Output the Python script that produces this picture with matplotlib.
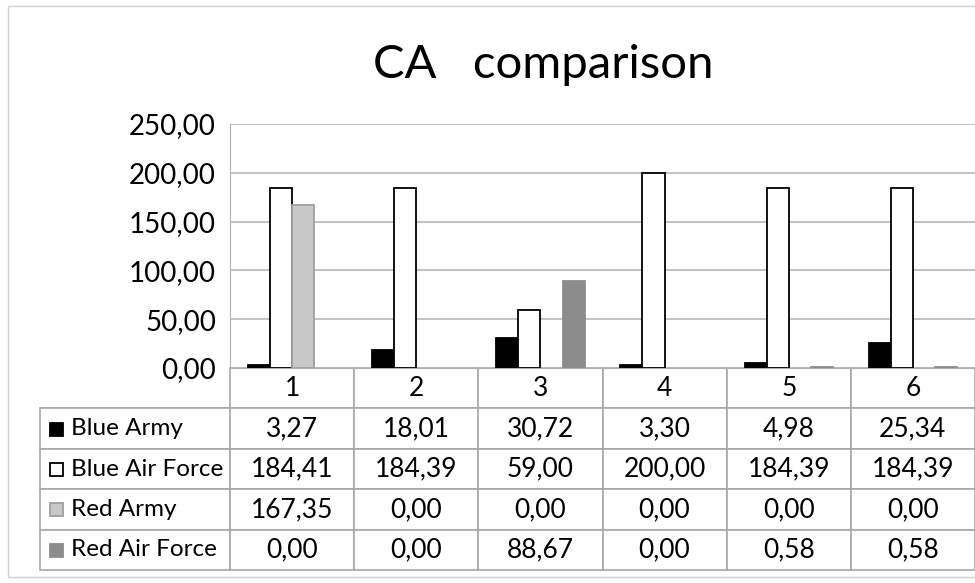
import matplotlib.pyplot as plt
import numpy as np
from matplotlib.patches import Rectangle

categories = ["1", "2", "3", "4", "5", "6"]
series_names = ["Blue Army", "Blue Air Force", "Red Army", "Red Air Force"]
blue_army = [3.27, 18.01, 30.72, 3.30, 4.98, 25.34]
blue_air_force = [184.41, 184.39, 59.00, 200.00, 184.39, 184.39]
red_army = [167.35, 0.00, 0.00, 0.00, 0.00, 0.00]
red_air_force = [0.00, 0.00, 88.67, 0.00, 0.58, 0.58]
y_ticks = [0, 50, 100, 150, 200, 250]

plt.rcParams['font.family'] = ['Lato', 'DejaVu Sans']

W, H = 975, 583
fig = plt.figure(figsize=(W / 100, H / 100), dpi=100)


def fx(px):
    return px / W


def fy(py):
    return 1 - py / H


def fmt(v):
    return f"{v:.2f}".replace(".", ",")


# outer chart border
fig.patches.append(Rectangle((fx(8), fy(577)), fx(1000) - fx(8), fy(6) - fy(577),
                             transform=fig.transFigure, fill=False,
                             edgecolor="#d0d0d0", lw=1))

left, right, top, bottom = 230, 975, 124, 368
ax = fig.add_axes([fx(left), fy(bottom), fx(right) - fx(left), fy(top) - fy(bottom)])

fills = ["black", "white", "#c8c8c8", "#8c8c8c"]
edges = ["black", "black", "#a0a0a0", "#8c8c8c"]
all_series = [blue_army, blue_air_force, red_army, red_air_force]

x = np.arange(len(categories))
width = 0.178
for i, vals in enumerate(all_series):
    lws = [1.3 if v > 0 else 0 for v in vals]
    ax.bar(x + (i - 1.5) * width, vals, width, color=fills[i],
           edgecolor=edges[i], linewidth=lws, zorder=3)

ax.set_xlim(-0.5, len(categories) - 0.5)
ax.set_ylim(0, 250)
ax.set_yticks(y_ticks)
ax.set_yticklabels([fmt(v) for v in y_ticks], fontsize=20)
ax.tick_params(axis="y", length=0, pad=10)
ax.set_xticks([])
ax.grid(axis="y", color="#b8b8b8", lw=1.2, zorder=0)
for s in ["top", "right"]:
    ax.spines[s].set_visible(False)
ax.spines["left"].set_color("#b0b0b0")
ax.spines["bottom"].set_color("#b0b0b0")

fig.text(fx(543), fy(65), "CA   comparison", fontsize=34, ha="center", va="center")

# data table below the axis
tbl_left, tbl_bottom = 40, 570
cell_text = [[""] + categories]
for vals in all_series:
    cell_text.append([""] + [fmt(v) for v in vals])

cat_w = (right - left) / len(categories)
col_px = [left - tbl_left] + [cat_w] * len(categories)
tot = sum(col_px)
tbl = ax.table(cellText=cell_text, colWidths=[c / tot for c in col_px],
               cellLoc="center",
               bbox=[(tbl_left - left) / (right - left),
                     (bottom - tbl_bottom) / (bottom - top),
                     (right - tbl_left) / (right - left),
                     (tbl_bottom - bottom) / (bottom - top)])
tbl.auto_set_font_size(False)
tbl.set_fontsize(19)
for (r, c), cell in tbl.get_celld().items():
    cell.set_edgecolor("#a8a8a8")
    cell.set_linewidth(1.2)
    if r == 0 and c == 0:
        cell.visible_edges = "B"

# row labels with legend keys
row_h = (tbl_bottom - bottom) / 5
for i, name in enumerate(series_names):
    cy = bottom + row_h * (i + 1.5)
    fig.patches.append(Rectangle((fx(50), fy(cy + 7)), fx(13), fy(cy - 6) - fy(cy + 7),
                                 transform=fig.transFigure, facecolor=fills[i],
                                 edgecolor=edges[i], lw=1.3))
    fig.text(fx(71), fy(cy), name, fontsize=17.5, ha="left", va="center")

fig.savefig("out.png", dpi=100)
